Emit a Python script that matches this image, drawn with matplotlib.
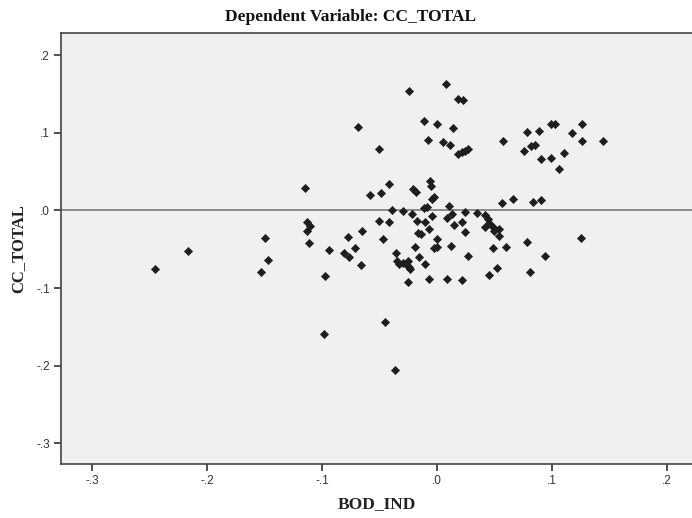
import matplotlib
matplotlib.use("Agg")
import matplotlib.pyplot as plt

# partial regression plot: BOD_IND vs CC_TOTAL
bod_ind = [
    -0.2452, -0.2165, -0.1497, -0.1473, -0.1534, -0.1148, -0.1133, -0.1105, -0.1133, -0.1113,
    -0.0936, -0.0976, -0.0983, -0.0776, -0.0652, -0.0715, -0.0811, -0.0765, -0.0658, -0.0686,
    -0.0506, -0.0579, -0.0489, -0.0422, -0.0210, -0.0181, -0.0059, -0.0051, -0.0027, -0.0044,
    0.0106, -0.0109, -0.0088, -0.0393, -0.0297, 0.0565, 0.0661, 0.0835, 0.0902, -0.0245,
    0.0080, 0.0182, 0.0228, -0.0114, -0.0004, 0.0139, -0.0074, 0.0054, 0.0115, 0.0182,
    0.0217, 0.0240, 0.0266, 0.0574, 0.0788, 0.0888, 0.0997, 0.1032, 0.0762, 0.0818,
    0.0858, 0.0902, 0.0997, 0.1064, 0.1267, 0.1178, 0.1267, 0.1448, 0.1102, -0.0501,
    -0.0419, -0.0219, -0.0175, -0.0100, -0.0044, 0.0086, 0.0130, 0.0248, 0.0348, 0.0152,
    0.0220, 0.0243, 0.0422, 0.0443, 0.0457, 0.0422, 0.0487, 0.0501, 0.0539, 0.0544,
    -0.0471, -0.0355, -0.0349, -0.0327, -0.0292, -0.0248, -0.0240, -0.0233, -0.0262, -0.0251,
    -0.0190, -0.0158, -0.0103, -0.0065, -0.0161, -0.0138, -0.0065, 0.0004, -0.0024, 0.0004,
    0.0126, 0.0091, 0.0220, 0.0274, 0.0487, 0.0597, 0.0527, 0.0452, 0.0783, 0.0812,
    0.0943, -0.0451, -0.0367, 0.1253,
]
cc_total = [
    -0.0758, -0.0518, -0.0351, -0.0642, -0.0789, 0.0286, -0.0144, -0.0200, -0.0264, -0.0423,
    -0.0505, -0.0840, -0.1591, -0.0338, -0.0268, -0.0483, -0.0552, -0.0603, -0.0702, 0.1076,
    0.0789, 0.0196, 0.0229, 0.0341, 0.0277, 0.0235, 0.0384, 0.0320, 0.0178, 0.0148,
    0.0062, 0.0028, 0.0041, 0.0006, -0.0003, 0.0093, 0.0148, 0.0113, 0.0135, 0.1544,
    0.1630, 0.1433, 0.1424, 0.1157, 0.1111, 0.1067, 0.0909, 0.0879, 0.0844, 0.0728,
    0.0754, 0.0767, 0.0796, 0.0896, 0.1012, 0.1028, 0.1115, 0.1115, 0.0767, 0.0831,
    0.0844, 0.0664, 0.0680, 0.0535, 0.1111, 0.0999, 0.0899, 0.0892, 0.0737, -0.0135,
    -0.0152, -0.0049, -0.0135, -0.0148, -0.0071, -0.0093, -0.0049, -0.0019, -0.0036, -0.0187,
    -0.0152, -0.0273, -0.0062, -0.0113, -0.0157, -0.0216, -0.0209, -0.0264, -0.0235, -0.0332,
    -0.0371, -0.0544, -0.0651, -0.0693, -0.0677, -0.0647, -0.0724, -0.0754, -0.0702, -0.0918,
    -0.0466, -0.0595, -0.0693, -0.0879, -0.0294, -0.0307, -0.0242, -0.0371, -0.0487, -0.0466,
    -0.0457, -0.0883, -0.0899, -0.0586, -0.0487, -0.0474, -0.0741, -0.0831, -0.0406, -0.0796,
    -0.0582, -0.1437, -0.2052, -0.0351,
]

x_ticks = [-0.3, -0.2, -0.1, 0.0, 0.1, 0.2]
x_labels = ['-.3', '-.2', '-.1', '.0', '.1', '.2']
y_ticks = [0.2, 0.1, 0.0, -0.1, -0.2, -0.3]
y_labels = ['.2', '.1', '.0', '-.1', '-.2', '-.3']

W, H = 692, 518
fig = plt.figure(figsize=(W / 100, H / 100), dpi=100)
fig.patch.set_facecolor('white')

# axes box in pixels: left 61, top 33, bottom 463.5, runs off the right edge
left, top, bottom = 61, 33, 463.5
ax = fig.add_axes([left / W, (H - bottom) / H, (W - left) / W + 0.002, (bottom - top) / H])
ax.set_facecolor('#f0f0f0')

ax.scatter(bod_ind, cc_total, marker='D', s=17, color='#1e1e1e',
           edgecolors='#1e1e1e', linewidths=0.5, zorder=3)
ax.axhline(0, color='#7a7a7a', linewidth=1.2, zorder=2)

ax.set_xlim(-0.3274, 0.2233)
ax.set_ylim(-0.3260, 0.2287)

ax.set_xticks(x_ticks)
ax.set_xticklabels(x_labels)
ax.set_yticks(y_ticks)
ax.set_yticklabels(y_labels)
for lab in ax.get_xticklabels() + ax.get_yticklabels():
    lab.set_fontfamily('Liberation Sans')
    lab.set_fontsize(8.5)
    lab.set_color('#333333')
ax.tick_params(direction='out', length=5, width=1.2, color='#333333', pad=3)

for side in ['left', 'bottom', 'top']:
    ax.spines[side].set_color('#444444')
    ax.spines[side].set_linewidth(1.2)
ax.spines['right'].set_visible(False)

ax.set_xlabel('BOD_IND', fontfamily='Liberation Serif', fontweight='bold',
              fontsize=12.5, color='#222222', labelpad=7)
ax.set_ylabel('CC_TOTAL', fontfamily='Liberation Serif', fontweight='bold',
              fontsize=12, color='#222222', labelpad=7)

fig.text(350 / W, 1 - 17 / H, 'Dependent Variable: CC_TOTAL', ha='center', va='center',
         fontfamily='Liberation Serif', fontweight='bold', fontsize=12.5, color='#111111')

fig.savefig('out.png', dpi=100)
